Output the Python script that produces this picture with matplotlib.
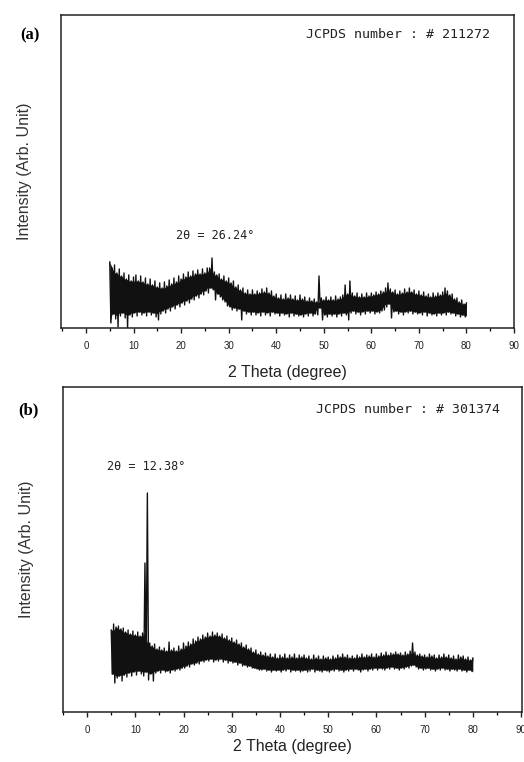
import numpy as np
import matplotlib as mpl
import matplotlib.pyplot as plt
import matplotlib.ticker as ticker

mpl.rcParams.update({
    "font.family": ["Liberation Sans", "DejaVu Sans"],
    "axes.linewidth": 1.1,
    "axes.edgecolor": "#222222",
})

# ── data ─────────────────────────────────────────────────────────────────────
# 2-theta sampled every 0.5 deg from 5 to 80; highs and lows of the noisy trace
two_theta = np.arange(5.0, 80.0 + 0.25, 0.5)

upper_a = [
    66, 60, 63, 55, 59, 52, 55, 49, 53, 47,
    51, 53, 47, 52, 46, 50, 44, 49, 43, 47,
    41, 45, 40, 46, 42, 48, 44, 50, 46, 52,
    49, 54, 51, 56, 52, 57, 54, 58, 54, 59,
    55, 60, 60, 70, 56, 53, 54, 49, 52, 47,
    50, 45, 47, 41, 43, 38, 40, 35, 38, 34,
    38, 34, 37, 35, 39, 36, 40, 35, 37, 32,
    34, 30, 33, 29, 34, 30, 33, 29, 32, 28,
    33, 29, 31, 27, 30, 27, 29, 26, 52, 30,
    28, 31, 28, 31, 28, 32, 29, 31, 33, 43,
    34, 47, 35, 32, 35, 31, 34, 31, 35, 32,
    35, 33, 36, 34, 37, 36, 40, 45, 39, 36,
    38, 34, 37, 35, 39, 36, 40, 36, 38, 34,
    37, 33, 36, 32, 34, 31, 35, 32, 35, 33,
    36, 40, 37, 33, 34, 29, 30, 26, 28, 24,
    25,
]
lower_a = [
    5, 14, 9, 1, 12, 15, 10, 0, 13, 11,
    15, 12, 16, 13, 15, 12, 16, 13, 15, 11,
    8, 14, 17, 15, 19, 17, 21, 19, 23, 21,
    25, 23, 27, 25, 29, 28, 32, 30, 34, 33,
    37, 35, 40, 38, 28, 34, 31, 28, 26, 22,
    21, 18, 20, 17, 19, 8, 17, 14, 16, 13,
    16, 13, 15, 12, 16, 13, 15, 12, 16, 14,
    15, 12, 15, 13, 14, 11, 15, 12, 14, 12,
    13, 11, 14, 12, 15, 12, 14, 13, 20, 8,
    13, 11, 14, 12, 14, 11, 14, 12, 15, 13,
    8, 15, 17, 14, 16, 13, 16, 14, 17, 15,
    17, 14, 16, 15, 17, 18, 21, 24, 10, 16,
    17, 14, 16, 13, 16, 15, 17, 14, 16, 14,
    15, 13, 16, 12, 15, 13, 14, 12, 15, 13,
    15, 13, 16, 14, 15, 12, 14, 11, 13, 11,
    12,
]

upper_b = [
    82, 88, 85, 86, 83, 84, 80, 82, 78, 81,
    77, 80, 76, 79, 149, 219, 69, 66, 68, 63,
    65, 62, 64, 61, 70, 62, 64, 61, 66, 63,
    69, 66, 70, 68, 73, 71, 75, 73, 77, 75,
    79, 76, 80, 77, 79, 76, 78, 74, 76, 72,
    74, 70, 72, 68, 69, 65, 67, 63, 64, 60,
    62, 58, 60, 57, 59, 56, 58, 55, 58, 54,
    57, 55, 58, 54, 57, 55, 58, 54, 57, 55,
    57, 54, 56, 53, 57, 54, 56, 53, 56, 54,
    55, 53, 56, 54, 57, 55, 58, 55, 57, 54,
    56, 54, 57, 55, 58, 55, 57, 56, 58, 55,
    58, 56, 59, 57, 60, 57, 59, 58, 60, 58,
    59, 57, 60, 58, 61, 69, 60, 57, 58, 56,
    57, 55, 58, 56, 57, 54, 57, 55, 58, 55,
    57, 54, 56, 53, 57, 55, 56, 53, 55, 52,
    54,
]
lower_b = [
    38, 29, 34, 36, 31, 37, 35, 39, 36, 40,
    37, 41, 38, 36, 40, 32, 38, 31, 39, 41,
    39, 42, 40, 41, 39, 42, 41, 43, 42, 44,
    44, 46, 45, 48, 47, 49, 48, 51, 50, 52,
    51, 53, 50, 52, 51, 53, 50, 52, 49, 51,
    49, 50, 47, 49, 46, 47, 45, 46, 44, 44,
    43, 42, 42, 43, 41, 42, 40, 42, 41, 42,
    40, 42, 41, 43, 40, 42, 41, 42, 40, 41,
    42, 40, 41, 43, 40, 42, 41, 40, 42, 41,
    40, 42, 41, 43, 41, 42, 40, 42, 41, 43,
    41, 43, 42, 40, 42, 43, 41, 43, 42, 44,
    42, 44, 43, 42, 44, 43, 45, 43, 44, 42,
    44, 43, 45, 44, 46, 47, 45, 43, 44, 42,
    43, 44, 42, 43, 41, 43, 42, 44, 42, 43,
    41, 43, 42, 41, 43, 41, 42, 40, 42, 41,
    40,
]

panels = [
    dict(tag="(a)", jcpds="JCPDS number : # 211272", upper=upper_a, lower=lower_a,
         peak_label="2θ = 26.24°", peak_xy=(27.1, 92), ytop=313,
         rect=[0.1164, 0.5696, 0.8645, 0.4108], xlim=(-5.25, 90),
         tag_xy=(30, 35), jc_xy=(0.947, 0.936), xpad=10),
    dict(tag="(b)", jcpds="JCPDS number : # 301374", upper=upper_b, lower=lower_b,
         peak_label="2θ = 12.38°", peak_xy=(12.2, 246), ytop=325,
         rect=[0.1202, 0.0656, 0.876, 0.4265], xlim=(-5.0, 90.2),
         tag_xy=(28, 410), jc_xy=(0.952, 0.932), xpad=3),
]

W, H = 524, 762
fig = plt.figure(figsize=(W / 100, H / 100), dpi=100)

for p in panels:
    ax = fig.add_axes(p["rect"])
    up = np.asarray(p["upper"], dtype=float)
    lo = np.asarray(p["lower"], dtype=float)

    # solid body of the band (sharp spikes left to the trace line)
    body_top = np.minimum(up, np.minimum(np.roll(up, 1), np.roll(up, -1)))
    body_bot = np.maximum(lo, np.maximum(np.roll(lo, 1), np.roll(lo, -1)))
    body_top[[0, -1]] = up[[0, -1]]
    body_bot[[0, -1]] = lo[[0, -1]]
    ax.fill_between(two_theta, body_bot, body_top, color="#111111", linewidth=0)

    # trace: highs at the grid points, lows half a step later
    xs = np.column_stack([two_theta, two_theta + 0.25]).ravel()[:-1]
    ys = np.column_stack([up, lo]).ravel()[:-1]
    ax.plot(xs, ys, color="#111111", linewidth=1.0)

    ax.set_xlim(*p["xlim"])
    ax.set_ylim(0, p["ytop"])

    ax.xaxis.set_major_locator(ticker.MultipleLocator(10))
    ax.xaxis.set_minor_locator(ticker.MultipleLocator(5))
    ax.tick_params(axis="x", which="major", direction="out", length=3.5,
                   width=1.0, labelsize=7, pad=6, colors="#222222")
    ax.tick_params(axis="x", which="minor", direction="out", length=2.5,
                   width=0.9)
    ax.set_yticks([])

    ax.set_xlabel("2 Theta (degree)", fontsize=11.5, labelpad=p["xpad"],
                  color="#222222")
    ax.set_ylabel("Intensity (Arb. Unit)", fontsize=11.5, labelpad=21,
                  color="#333333")

    ax.text(*p["jc_xy"], p["jcpds"], transform=ax.transAxes, ha="right",
            va="center", fontsize=9.5, family="DejaVu Sans Mono", color="#222222")
    ax.text(*p["peak_xy"], p["peak_label"], ha="center", va="center",
            fontsize=8.5, family="DejaVu Sans Mono", color="#222222")

    fig.text(p["tag_xy"][0] / W, 1 - p["tag_xy"][1] / H, p["tag"],
             ha="center", va="center", fontsize=12, fontweight="bold",
             family="Liberation Serif")

fig.savefig("out.png", dpi=100)
